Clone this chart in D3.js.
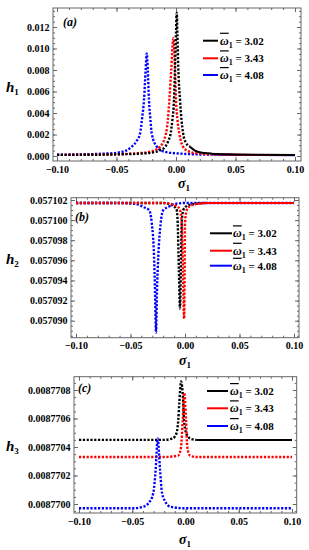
<!DOCTYPE html>
<html>
<head>
<meta charset="utf-8">
<script src="https://cdn.jsdelivr.net/npm/d3@7"></script>
<style>
  body { margin: 0; background: #fff; }
  svg { display: block; }
  text { font-family: "Liberation Serif", "Times New Roman", serif; font-weight: bold; }
</style>
</head>
<body>
<div id="chart"></div>
<script>
// sigma_1 ticks and legend labels
var sigmaTicks = [-0.10, -0.05, 0.00, 0.05, 0.10];
var omegaLabels = ["3.02", "3.43", "4.08"];

// y ticks of the three panels
var h1Ticks = [0.000, 0.002, 0.004, 0.006, 0.008, 0.010, 0.012];
var h2Ticks = [0.057090, 0.057092, 0.057094, 0.057096, 0.057098, 0.057100, 0.057102];
var h3Ticks = [0.0087700, 0.0087702, 0.0087704, 0.0087706, 0.0087708];

// panel (a): h1 vs sigma1
var h1_302 = [[-0.1,0.00010],[-0.08,0.00011],[-0.06,0.00013],[-0.04,0.00018],[-0.03,0.00022],[-0.02,0.00032],
  [-0.014,0.00050],[-0.009,0.00087],[-0.0065,0.0014],[-0.0045,0.0021],[-0.003,0.0034],[-0.0017,0.0052],
  [-0.0008,0.0083],[0,0.0115],[0.0006,0.0133],[0.0012,0.0112],[0.0019,0.0083],[0.0034,0.0052],[0.0046,0.0034],
  [0.006,0.0021],[0.008,0.0013],[0.0118,0.00087],[0.016,0.00050],[0.02,0.00035],[0.03,0.00022],[0.05,0.00015],
  [0.07,0.00011],[0.1,0.00009]];
var h1_343 = [[-0.1,0.00010],[-0.08,0.00012],[-0.06,0.00014],[-0.04,0.00020],[-0.03,0.00027],[-0.02,0.00045],
  [-0.0134,0.00087],[-0.0084,0.0021],[-0.0068,0.0034],[-0.0056,0.0052],[-0.004,0.0080],[-0.0023,0.01095],
  [-0.0008,0.0080],[0,0.0052],[0.0012,0.0034],[0.0028,0.0021],[0.0059,0.00087],[0.01,0.00045],[0.02,0.00022],
  [0.04,0.00013],[0.07,0.00010],[0.1,0.00009]];
var h1_408 = [[-0.1,0.00012],[-0.08,0.00015],[-0.06,0.00022],[-0.05,0.00030],[-0.042,0.00050],[-0.0372,0.00087],
  [-0.033,0.0014],[-0.0302,0.0021],[-0.0285,0.0035],[-0.0269,0.0052],[-0.0255,0.0080],[-0.0246,0.00955],
  [-0.0237,0.0080],[-0.0227,0.0052],[-0.0215,0.0034],[-0.0204,0.0021],[-0.0162,0.00087],[-0.012,0.00050],
  [-0.006,0.00032],[0,0.00025],[0.01,0.00018],[0.03,0.00013],[0.05,0.00010],[0.1,0.00008]];

// panel (b): h2 vs sigma1
var h2_302 = [[-0.1,0.0571017],[-0.05,0.0571017],[-0.02,0.0571017],[-0.0107,0.0571014],[-0.0076,0.0571010],
  [-0.0067,0.0570997],[-0.0056,0.0570950],[-0.0046,0.0570912],[-0.0038,0.0570950],[-0.003,0.0570997],
  [-0.0016,0.0571010],[0.0016,0.0571014],[0.008,0.0571016],[0.02,0.0571017],[0.1,0.0571017]];
var h2_343 = [[-0.1,0.0571017],[-0.05,0.0571017],[-0.02,0.0571017],[-0.0076,0.0571014],[-0.0046,0.0571010],
  [-0.003,0.0570997],[-0.0019,0.0570950],[-0.0008,0.0570902],[-0.0003,0.0570950],[0,0.0570997],
  [0.0016,0.0571010],[0.0046,0.0571014],[0.01,0.0571016],[0.02,0.0571017],[0.1,0.0571017]];
var h2_408 = [[-0.1,0.0571017],[-0.06,0.0571017],[-0.045,0.0571016],[-0.0383,0.0571013],[-0.033,0.0571010],
  [-0.0305,0.0570997],[-0.0284,0.0570964],[-0.0275,0.0570930],[-0.0266,0.0570888],[-0.0257,0.0570930],
  [-0.0245,0.0570964],[-0.0223,0.0570997],[-0.0199,0.0571010],[-0.0153,0.0571013],[-0.01,0.0571016],
  [0,0.0571017],[0.1,0.0571017]];

// panel (c): h3 vs sigma1
var h3_302 = [[-0.1,0.00877045],[-0.05,0.00877045],[-0.02,0.00877045],[-0.012,0.00877046],[-0.0083,0.00877050],
  [-0.0068,0.00877059],[-0.0058,0.00877071],[-0.0042,0.00877086],[-0.0021,0.00877071],[-0.0014,0.00877059],
  [0.0005,0.00877050],[0.0042,0.00877046],[0.01,0.00877045],[0.1,0.00877045]];
var h3_343 = [[-0.1,0.00877033],[-0.05,0.00877033],[-0.02,0.00877033],[-0.0068,0.00877034],[-0.0042,0.00877040],
  [-0.0026,0.00877059],[-0.0011,0.00877078],[0.0005,0.00877059],[0.0017,0.00877040],[0.0042,0.00877034],
  [0.01,0.00877033],[0.1,0.00877033]];
var h3_408 = [[-0.1,0.00876997],[-0.05,0.00876997],[-0.04,0.00876998],[-0.0333,0.00877002],[-0.0302,0.00877008],
  [-0.028,0.00877024],[-0.0261,0.00877046],[-0.0239,0.00877024],[-0.0221,0.00877008],[-0.0192,0.00877002],
  [-0.014,0.00876998],[0,0.00876997],[0.1,0.00876997]];

var colors = ["#000000", "#ff0000", "#0000ff"];
var serif = "'Liberation Serif', 'Times New Roman', serif";

function init(){
    var w = 309;
    var h = 550;

    var svg = d3.select("#chart")
                .append("svg")
                .attr("width", w)
                .attr("height", h)
                .style("font-family", serif);

    var panels = [
        {name: "a", sub: "1", series: [h1_302, h1_343, h1_408], ticks: h1Ticks, fmt: ".3f", minor: 0.0005,
         frame: [53, 8, 301, 161], xr: [57, 295], yd: [0, 0.012], yr: [156, 27],
         cut: [0.0118, 0.04, 0.03], order: [2, 1, 0],
         tag: [63, 26], hl: [6, 92], xl: [178, 188], leg: [203, 218, 220, [40.7, 58.3, 75]]},
        {name: "b", sub: "2", series: [h2_302, h2_343, h2_408], ticks: h2Ticks, fmt: ".6f", minor: 0.0000005,
         frame: [71, 197.7, 299, 337.7], xr: [76, 294], yd: [0.057090, 0.057102], yr: [320.7, 200],
         cut: [0.02, 0.01, 0.02], order: [0, 2, 1],
         tag: [75, 221], hl: [6, 264], xl: [179, 365], leg: [210, 232, 233, [233.3, 250.7, 265.7]]},
        {name: "c", sub: "3", series: [h3_302, h3_343, h3_408], ticks: h3Ticks, fmt: ".7f", minor: 0.00000005,
         frame: [74, 376.7, 296.7, 513], xr: [79, 292], yd: [0.0087700, 0.0087708], yr: [504, 390],
         cut: [0.01, 0.012, 0.01], order: [0, 1, 2],
         tag: [78, 392], hl: [6, 451], xl: [179, 544], leg: [207, 228, 230, [391, 408.3, 426]]}
    ];

    panels.forEach(function(p){
        var fl = p.frame[0], ft = p.frame[1], fr = p.frame[2], fb = p.frame[3];

        var x = d3.scaleLinear().domain([-0.1, 0.1]).range(p.xr);
        var y = d3.scaleLinear().domain(p.yd).range(p.yr);

        var g = svg.append("g");

        // minor ticks
        var xMinor = d3.range(-10, 11).map(function(i){ return i / 100; });
        var y0 = y.invert(fb), y1 = y.invert(ft);
        var yMinor = d3.range(Math.ceil(y0 / p.minor - 1e-6), Math.floor(y1 / p.minor + 1e-6) + 1)
                        .map(function(i){ return i * p.minor; });

        function tickAxis(axis, tx, ty, vals, size, labels){
            var a = axis.tickValues(vals).tickSizeInner(-size).tickSizeOuter(0);
            if(!labels) a.tickFormat("");
            var ag = g.append("g").attr("transform", "translate(" + tx + "," + ty + ")").call(a);
            ag.select(".domain").remove();
            ag.selectAll("line").attr("stroke", "#666");
            return ag;
        }

        tickAxis(d3.axisBottom(x), 0, fb, xMinor, 2, false);
        tickAxis(d3.axisTop(x), 0, ft, xMinor, 2, false);
        tickAxis(d3.axisLeft(y), fl, 0, yMinor, 2, false);
        tickAxis(d3.axisRight(y), fr, 0, yMinor, 2, false);

        var xa = tickAxis(d3.axisBottom(x).tickFormat(d3.format(".2f")).tickPadding(4.5), 0, fb, sigmaTicks, 4, true);
        var ya = tickAxis(d3.axisLeft(y).tickFormat(d3.format(p.fmt)).tickPadding(3.5), fl, 0, p.ticks, 4, true);
        tickAxis(d3.axisTop(x), 0, ft, sigmaTicks, 4, false);
        tickAxis(d3.axisRight(y), fr, 0, p.ticks, 4, false);

        [xa, ya].forEach(function(a){
            a.attr("font-family", serif).attr("font-size", 10);
            a.selectAll("text")
             .style("font-family", serif)
             .style("font-weight", "bold")
             .style("font-size", "10px")
             .attr("fill", "#000");
        });

        g.append("rect")
         .attr("x", fl).attr("y", ft)
         .attr("width", fr - fl).attr("height", fb - ft)
         .attr("fill", "none")
         .attr("stroke", "#666")
         .attr("stroke-width", 1);

        g.append("clipPath").attr("id", "clip-" + p.name)
         .append("rect")
         .attr("x", fl).attr("y", ft)
         .attr("width", fr - fl).attr("height", fb - ft);

        var line = d3.line()
                     .x(function(d){ return x(d[0]); })
                     .y(function(d){ return y(d[1]); })
                     .curve(d3.curveMonotoneX);

        var cg = g.append("g").attr("clip-path", "url(#clip-" + p.name + ")");

        p.order.forEach(function(k){
            var pts = p.series[k];
            var idx = pts.findIndex(function(d){ return d[0] >= p.cut[k]; });
            cg.append("path")
              .attr("d", line(pts.slice(0, idx + 1)))
              .attr("fill", "none")
              .attr("stroke", colors[k])
              .attr("stroke-width", 2.4)
              .attr("stroke-dasharray", "2.2,1.6");
            cg.append("path")
              .attr("d", line(pts.slice(idx)))
              .attr("fill", "none")
              .attr("stroke", colors[k])
              .attr("stroke-width", 2);
        });

        // panel tag
        g.append("text")
         .attr("x", p.tag[0]).attr("y", p.tag[1])
         .style("font-size", "12px")
         .style("font-style", "italic")
         .text("(" + p.name + ")");

        // y label
        var hl = g.append("text").attr("x", p.hl[0]).attr("y", p.hl[1]);
        hl.append("tspan").style("font-size", "15px").style("font-style", "italic").text("h");
        hl.append("tspan").attr("dy", 3).style("font-size", "9px").text(p.sub);

        // x label
        var xl = g.append("text").attr("x", p.xl[0]).attr("y", p.xl[1]);
        xl.append("tspan").style("font-size", "14px").style("font-style", "italic").text("σ");
        xl.append("tspan").attr("dy", 3).style("font-size", "9px").text("1");

        // legend
        omegaLabels.forEach(function(lab, i){
            var ly = p.leg[3][i];
            g.append("line")
             .attr("x1", p.leg[0]).attr("x2", p.leg[1])
             .attr("y1", ly).attr("y2", ly)
             .attr("stroke", colors[i])
             .attr("stroke-width", 2);
            var t = g.append("text").attr("x", p.leg[2]).attr("y", ly + 4);
            t.append("tspan").style("font-size", "12px").style("font-style", "italic")
             .style("text-decoration", "overline").text("ω");
            t.append("tspan").attr("dy", 3).style("font-size", "8px").text("1");
            t.append("tspan").attr("dy", -3).style("font-size", "11px").text(" = " + lab);
        });
    });
}
window.onload = init;
</script>
</body>
</html>
